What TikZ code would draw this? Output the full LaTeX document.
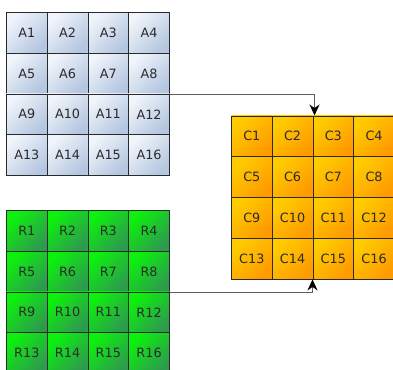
\documentclass[tikz,border=0pt]{standalone}
\usepackage{fontspec}
\setmainfont{DejaVu Sans}
\usetikzlibrary{arrows.meta}
\definecolor{aLight}{HTML}{F0F4FB}
\definecolor{aDark}{HTML}{B4C6E0}
\definecolor{rLight}{HTML}{0CF20C}
\definecolor{rDark}{HTML}{2E9A4E}
\definecolor{cLight}{HTML}{FFCC00}
\definecolor{cDark}{HTML}{FF9A00}
\definecolor{cellEdge}{HTML}{2A2A2A}
\definecolor{cellText}{HTML}{2B2B2B}
\definecolor{wire}{HTML}{5E5E5E}
\tikzset{
  cell/.style={rectangle, draw=cellEdge, line width=0.9pt, minimum size=40.75pt,
    inner sep=0pt, anchor=north west,
    font=\fontsize{12.8}{14}\selectfont, text=cellText},
  acell/.style={cell, top color=aLight, bottom color=aDark, shading angle=45},
  rcell/.style={cell, top color=rLight, bottom color=rDark, shading angle=45},
  ccell/.style={cell, top color=cLight, bottom color=cDark, shading angle=45},
  link/.style={draw=wire, line width=1.3pt,
    -{Stealth[length=11pt,width=10pt,inset=3.5pt,color=black]}}
}
\begin{document}
\begin{tikzpicture}[x=1pt,y=-1pt]
  \useasboundingbox (0,0) rectangle (393,369);
  \begin{scope}
  \clip (0,0) rectangle (393,369);
  % input matrix A
  \foreach \r in {0,...,3} \foreach \c in {0,...,3} {
    \pgfmathtruncatemacro{\k}{4*\r+\c+1}
    \node[acell] (A\k) at ({6+40.75*\c},{12+40.75*\r}) {A\k};
  }
  % input matrix R
  \foreach \r in {0,...,3} \foreach \c in {0,...,3} {
    \pgfmathtruncatemacro{\k}{4*\r+\c+1}
    \node[rcell] (R\k) at ({6+40.75*\c},{210+40.75*\r}) {R\k};
  }
  % result matrix C
  \foreach \r in {0,...,3} \foreach \c in {0,...,3} {
    \pgfmathtruncatemacro{\k}{4*\r+\c+1}
    \node[ccell] (C\k) at ({231+40.75*\c},{115.5+40.75*\r}) {C\k};
  }
  % connectors into C
  \draw[link] (A8.south east) -| ([xshift=2pt]C3.north west);
  \draw[link] (R8.south east) -| (C15.south west);
  \end{scope}
\end{tikzpicture}
\end{document}
